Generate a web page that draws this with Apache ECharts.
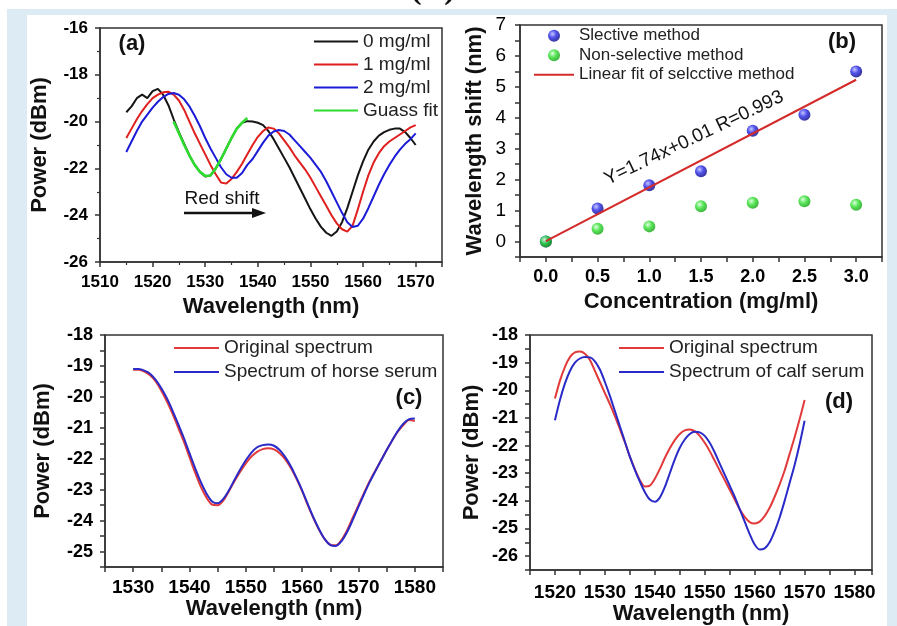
<!DOCTYPE html>
<html>
<head>
<meta charset="utf-8">
<title>spectra</title>
<script src="https://cdn.jsdelivr.net/npm/echarts@6/dist/echarts.min.js"></script>
<style>html,body{margin:0;padding:0;background:#fff;} #main{width:897px;height:626px;}</style>
</head>
<body>
<div id="main"></div>
<script>
function range(a, b) { var r = []; for (var v = a; v <= b; v++) r.push(v); return r; }
function pairs(xs, ys) { return ys.map(function (y, i) { return [xs[i], y]; }); }

// (a) spectra at different concentrations
var wlA = range(1515, 1570);
var p0 = [-19.6, -19.35, -19.0, -18.85, -19.0, -18.7, -18.6, -18.85, -19.3, -19.9,
  -20.45, -20.95, -21.45, -21.85, -22.15, -22.35, -22.3, -22.0, -21.6, -21.15,
  -20.7, -20.3, -20.05, -19.98, -20.0, -20.05, -20.15, -20.4, -20.75, -21.15,
  -21.55, -21.95, -22.4, -22.85, -23.3, -23.75, -24.15, -24.5, -24.75, -24.88,
  -24.7, -24.3, -23.7, -23.0, -22.3, -21.7, -21.2, -20.85, -20.6, -20.45,
  -20.35, -20.3, -20.3, -20.45, -20.7, -21.0];
var p1 = [-20.7, -20.3, -19.9, -19.55, -19.25, -19.0, -18.85, -18.75, -18.72, -18.85,
  -19.1, -19.5, -20.0, -20.5, -20.95, -21.4, -21.85, -22.25, -22.6, -22.65,
  -22.45, -22.15, -21.8, -21.4, -21.0, -20.65, -20.4, -20.25, -20.3, -20.5,
  -20.8, -21.1, -21.45, -21.75, -22.05, -22.4, -22.8, -23.2, -23.6, -24.0,
  -24.35, -24.6, -24.7, -24.45, -23.75, -23.0, -22.3, -21.75, -21.35, -21.05,
  -20.85, -20.7, -20.55, -20.4, -20.25, -20.15];
var p2 = [-21.3, -20.85, -20.4, -20.0, -19.7, -19.4, -19.15, -18.95, -18.82, -18.78,
  -18.85, -19.05, -19.35, -19.75, -20.2, -20.7, -21.15, -21.55, -21.95, -22.25,
  -22.4, -22.4, -22.2, -21.85, -21.6, -21.25, -20.9, -20.6, -20.42, -20.36,
  -20.4, -20.55, -20.8, -21.05, -21.3, -21.55, -21.85, -22.15, -22.55, -23.0,
  -23.45, -23.9, -24.3, -24.5, -24.45, -24.15, -23.7, -23.2, -22.7, -22.25,
  -21.85, -21.5, -21.2, -20.95, -20.75, -20.5];
var wlFit = range(1524, 1538);
var pFit = [-20.0, -20.5, -21.0, -21.45, -21.85, -22.15, -22.32, -22.3, -22.0, -21.6,
  -21.15, -20.7, -20.3, -20.05, -19.85];

// (b) wavelength shift vs concentration
var concB = [0, 0.5, 1.0, 1.5, 2.0, 2.5, 3.0];
var selB = [0, 1.07, 1.82, 2.27, 3.58, 4.1, 5.5];
var nonselB = [0, 0.41, 0.49, 1.14, 1.25, 1.3, 1.19];
var fitB = [[0, 0.01], [3, 5.23]];

// (c) horse serum
var wlC = range(1530, 1580);
var origC = [-19.12, -19.12, -19.18, -19.3, -19.5, -19.8, -20.15, -20.55, -21.0, -21.45,
  -21.95, -22.45, -22.9, -23.25, -23.48, -23.5, -23.35, -23.05, -22.72, -22.42,
  -22.15, -21.93, -21.78, -21.69, -21.66, -21.7, -21.82, -22.02, -22.3, -22.65,
  -23.05, -23.5, -23.92, -24.3, -24.6, -24.78, -24.8, -24.62, -24.3, -23.9,
  -23.5, -23.1, -22.72, -22.38, -22.05, -21.72, -21.4, -21.12, -20.9, -20.75, -20.78];
var horseC = [-19.1, -19.1, -19.15, -19.25, -19.45, -19.72, -20.05, -20.45, -20.88, -21.33,
  -21.82, -22.3, -22.75, -23.12, -23.38, -23.44, -23.3, -23.02, -22.68, -22.35,
  -22.05, -21.8, -21.63, -21.56, -21.54, -21.58, -21.72, -21.95, -22.25, -22.62,
  -23.02, -23.47, -23.9, -24.28, -24.6, -24.79, -24.82, -24.66, -24.36, -23.97,
  -23.55, -23.14, -22.75, -22.4, -22.06, -21.72, -21.4, -21.1, -20.86, -20.72, -20.7];

// (d) calf serum
var wlD = range(1520, 1570);
var origD = [-20.3, -19.65, -19.15, -18.8, -18.63, -18.6, -18.68, -18.9, -19.3, -19.7,
  -20.1, -20.5, -20.93, -21.4, -21.88, -22.4, -22.85, -23.25, -23.48, -23.45,
  -23.2, -22.85, -22.45, -22.1, -21.8, -21.58, -21.45, -21.42, -21.48, -21.65,
  -21.9, -22.2, -22.55, -22.9, -23.25, -23.6, -23.95, -24.3, -24.58, -24.77,
  -24.82, -24.75, -24.55, -24.25, -23.85, -23.4, -22.9, -22.3, -21.7, -21.05, -20.35];
var calfD = [-21.08, -20.35, -19.75, -19.3, -19.0, -18.85, -18.8, -18.81, -18.95, -19.25,
  -19.7, -20.2, -20.75, -21.3, -21.85, -22.4, -22.88, -23.3, -23.68, -23.95,
  -24.03, -23.88, -23.5, -23.0, -22.5, -22.08, -21.78, -21.58, -21.5, -21.52,
  -21.65, -21.9, -22.25, -22.65, -23.05, -23.45, -23.85, -24.3, -24.75, -25.2,
  -25.58, -25.76, -25.72, -25.5, -25.1, -24.6, -24.0, -23.35, -22.7, -21.95, -21.1];

var FONT = 'Liberation Sans, Arial, sans-serif';

function every(step, digits) {
  return function (v) {
    var k = v / step;
    if (Math.abs(k - Math.round(k)) > 1e-6) return '';
    return digits ? v.toFixed(digits) : String(Math.round(v));
  };
}

function axis(gi, o) {
  return {
    type: 'value', gridIndex: gi, min: o.min, max: o.max, interval: o.interval,
    name: o.name, nameLocation: 'middle', nameGap: o.nameGap,
    nameTextStyle: {fontFamily: FONT, fontWeight: 'bold', fontSize: 22, color: '#111'},
    axisLine: {show: true, onZero: false, lineStyle: {color: '#333', width: 1.5}},
    axisTick: {show: true, length: 5, lineStyle: {color: '#333', width: 1.5}},
    minorTick: {show: !!o.minor, splitNumber: o.minor || 2, length: 3, lineStyle: {color: '#333', width: 1.2}},
    splitLine: {show: false},
    axisLabel: {margin: o.margin, formatter: o.fmt, fontFamily: FONT,
      fontWeight: o.weight || 'bold', fontSize: o.size || 17, color: '#000'}
  };
}

function curve(name, xs, ys, gi, color, width, smooth) {
  return {
    name: name, type: 'line', xAxisIndex: gi, yAxisIndex: gi,
    data: pairs(xs, ys), symbol: 'none', smooth: smooth || false,
    lineStyle: {color: color, width: width}, itemStyle: {color: color}
  };
}

function sphere(light, mid, dark) {
  return new echarts.graphic.RadialGradient(0.38, 0.35, 0.7, [
    {offset: 0, color: light}, {offset: 0.45, color: mid}, {offset: 1, color: dark}]);
}

function legendBox(names, left, top, w, size, lh, hideSymbol) {
  var l = {
    orient: 'vertical', left: left, top: top, itemWidth: w, itemHeight: 12, itemGap: 0,
    padding: 0, data: names,
    textStyle: {fontFamily: FONT, fontSize: size, lineHeight: lh, color: '#222'}
  };
  if (hideSymbol) l.itemStyle = {opacity: 0};
  return l;
}

function label(text, x, y, size, weight, extra) {
  var t = {type: 'text', x: x, y: y, silent: true,
    style: {text: text, font: (weight || 'normal') + ' ' + size + 'px ' + FONT,
      fill: '#111', align: 'center', verticalAlign: 'middle'}};
  if (extra) for (var k in extra) t[k] = extra[k];
  return t;
}

var chart = echarts.init(document.getElementById('main'));

var option = {
  backgroundColor: '#fff',
  animation: false,
  grid: [
    {left: 100, top: 28, width: 342, height: 234, show: true, borderColor: '#333', borderWidth: 1.5},
    {left: 520, top: 25, width: 362, height: 232, show: true, borderColor: '#333', borderWidth: 1.5},
    {left: 105, top: 335, width: 338, height: 232, show: true, borderColor: '#333', borderWidth: 1.5},
    {left: 530, top: 335, width: 342, height: 235, show: true, borderColor: '#333', borderWidth: 1.5}
  ],
  xAxis: [
    axis(0, {min: 1510, max: 1575, interval: 10, minor: 2, fmt: every(10), margin: 12, name: 'Wavelength (nm)', nameGap: 34}),
    axis(1, {min: -0.25, max: 3.25, interval: 0.25, fmt: every(0.5, 1), margin: 11, size: 18, name: 'Concentration (mg/ml)', nameGap: 34}),
    axis(2, {min: 1525, max: 1585, interval: 5, fmt: every(10), margin: 11, size: 19, name: 'Wavelength (nm)', nameGap: 29}),
    axis(3, {min: 1515, max: 1583.5, interval: 5, fmt: every(10), margin: 13, size: 19, name: 'Wavelength (nm)', nameGap: 32})
  ],
  yAxis: [
    axis(0, {min: -26, max: -16, interval: 2, minor: 2, fmt: every(2), margin: 12, name: 'Power (dBm)', nameGap: 49}),
    axis(1, {min: -0.5, max: 7, interval: 0.5, fmt: every(1), margin: 14, weight: 'normal', size: 19, name: 'Wavelength shift (nm)', nameGap: 34}),
    axis(2, {min: -25.5, max: -18, interval: 0.5, fmt: every(1), margin: 12, size: 18, name: 'Power (dBm)', nameGap: 51}),
    axis(3, {min: -26.5, max: -18, interval: 0.5, fmt: every(1), margin: 12, size: 18, name: 'Power (dBm)', nameGap: 47})
  ],
  legend: [
    legendBox(['0 mg/ml', '1 mg/ml', '2 mg/ml', 'Guass fit'], 313, 30, 44, 19, 23, true),
    legendBox([{name: 'Slective method', icon: 'circle'}, {name: 'Non-selective method', icon: 'circle'},
      {name: 'Linear fit of selcctive method', itemStyle: {opacity: 0}}], 533, 26, 40, 17, 19.5),
    legendBox(['Original spectrum', 'Spectrum of horse serum'], 173, 336, 45, 19, 24, true),
    legendBox(['Original spectrum', 'Spectrum of calf serum'], 618, 336, 45, 19, 24, true)
  ],
  series: [
    curve('0 mg/ml', wlA, p0, 0, '#151515', 2),
    curve('1 mg/ml', wlA, p1, 0, '#e01f1f', 2),
    curve('2 mg/ml', wlA, p2, 0, '#1c1cd8', 2),
    curve('Guass fit', wlFit, pFit, 0, '#2edc2e', 2.6),
    {name: 'Linear fit of selcctive method', type: 'line', xAxisIndex: 1, yAxisIndex: 1,
      data: fitB, symbol: 'none', lineStyle: {color: '#d42a2a', width: 2}, itemStyle: {color: '#d42a2a'}},
    {name: 'Slective method', type: 'scatter', xAxisIndex: 1, yAxisIndex: 1,
      data: pairs(concB, selB), symbolSize: 12,
      itemStyle: {color: sphere('#b8b8ff', '#2626e6', '#00007a')}},
    {name: 'Non-selective method', type: 'scatter', xAxisIndex: 1, yAxisIndex: 1,
      data: pairs(concB, nonselB), symbolSize: 12,
      itemStyle: {color: sphere('#d8ffd8', '#30e030', '#0b9a0b')}},
    curve('Original spectrum', wlC, origC, 2, '#e23a3a', 2, 0.3),
    curve('Spectrum of horse serum', wlC, horseC, 2, '#2a2ac8', 2, 0.3),
    curve('Original spectrum', wlD, origD, 3, '#e23a3a', 2, 0.3),
    curve('Spectrum of calf serum', wlD, calfD, 3, '#2a2ac8', 2, 0.3)
  ],
  graphic: [
    {type: 'rect', silent: true, z: -20, shape: {x: 7, y: 9, width: 890, height: 617}, style: {fill: '#dcebf4'}},
    {type: 'rect', silent: true, z: -19, shape: {x: 27, y: 15, width: 860, height: 611}, style: {fill: '#fff'}},
    {type: 'text', silent: true, x: 433, y: 6, style: {text: '(B)', font: 'bold 34px Liberation Serif, serif',
      fill: '#111', align: 'center', verticalAlign: 'bottom'}},
    label('(a)', 132, 44, 22, 'bold'),
    label('(b)', 842, 42, 22, 'bold'),
    label('(c)', 409, 398, 22, 'bold'),
    label('(d)', 839, 402, 22, 'bold'),
    label('Red shift', 222, 199, 19, 'normal', {}),
    {type: 'line', silent: true, shape: {x1: 184, y1: 213, x2: 254, y2: 213}, style: {stroke: '#111', lineWidth: 2.5}},
    {type: 'polygon', silent: true, shape: {points: [[252, 208], [266, 213], [252, 218]]}, style: {fill: '#111'}},
    label('Y=1.74x+0.01 R=0.993', 694, 138, 19, 'normal', {rotation: 25.5 * Math.PI / 180})
  ]
};

chart.setOption(option);
</script>
</body>
</html>
